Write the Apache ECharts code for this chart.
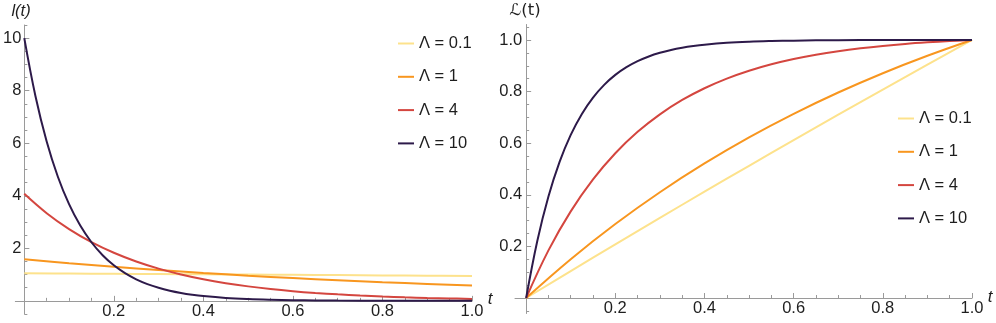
<!DOCTYPE html>
<html><head><meta charset="utf-8">
<script src="https://cdn.jsdelivr.net/npm/echarts@6/dist/echarts.min.js"></script>
<style>html,body{margin:0;padding:0;background:#fff}#c{width:996px;height:323px}</style>
</head><body><div id="c"></div><script>
// ---- data ----
const seriesNames = ['Λ = 0.1', 'Λ = 1', 'Λ = 4', 'Λ = 10'];
const tCoarse = [0, 0.1, 0.2, 0.3, 0.4, 0.5, 0.6, 0.7, 0.8, 0.9, 1.0];
const tMid = [0, 0.05, 0.1, 0.15, 0.2, 0.25, 0.3, 0.35, 0.4, 0.45, 0.5, 0.55, 0.6, 0.65, 0.7, 0.75, 0.8, 0.85, 0.9, 0.95, 1.0];
const tFine = [0, 0.025, 0.05, 0.075, 0.1, 0.125, 0.15, 0.175, 0.2, 0.225, 0.25, 0.275, 0.3, 0.325, 0.35, 0.375, 0.4, 0.45, 0.5, 0.55, 0.6, 0.65, 0.7, 0.8, 0.9, 1.0];

// left panel: l(t)
const density01 = [1.0508, 1.0404, 1.0300, 1.0198, 1.0096, 0.9996, 0.9896, 0.9798, 0.9700, 0.9604, 0.9508];
const density1 = [1.5820, 1.4314, 1.2952, 1.1719, 1.0604, 0.9595, 0.8682, 0.7856, 0.7108, 0.6432, 0.5820];
const density4 = [4.0746, 3.3360, 2.7313, 2.2362, 1.8308, 1.4990, 1.2273, 1.0048, 0.8227, 0.6735, 0.5514, 0.4515, 0.3696, 0.3026, 0.2478, 0.2029, 0.1661, 0.1360, 0.1113, 0.0912, 0.0746];
const density10 = [10.000, 7.7884, 6.0656, 4.7239, 3.6790, 2.8652, 2.2314, 1.7378, 1.3534, 1.0540, 0.8209, 0.6393, 0.4979, 0.3878, 0.3020, 0.2352, 0.1832, 0.1111, 0.0674, 0.0409, 0.0248, 0.0150, 0.0091, 0.0034, 0.0012, 0.0005];

// right panel: L(t)
const cum01 = [0, 0.1046, 0.2081, 0.3106, 0.4120, 0.5125, 0.6120, 0.7104, 0.8079, 0.9044, 1];
const cum1 = [0, 0.1506, 0.2868, 0.4100, 0.5215, 0.6225, 0.7138, 0.7964, 0.8712, 0.9388, 1];
const cum4 = [0, 0.1847, 0.3358, 0.4596, 0.5609, 0.6439, 0.7118, 0.7675, 0.8130, 0.8503, 0.8808, 0.9058, 0.9262, 0.9430, 0.9567, 0.9679, 0.9771, 0.9847, 0.9908, 0.9959, 1];
const cum10 = [0, 0.2212, 0.3935, 0.5276, 0.6321, 0.7135, 0.7769, 0.8262, 0.8647, 0.8946, 0.9179, 0.9361, 0.9502, 0.9612, 0.9698, 0.9765, 0.9817, 0.9889, 0.9933, 0.9959, 0.9975, 0.9985, 0.9991, 0.9997, 0.9999, 1];

// ticks
const xMajorTicks = [0.2, 0.4, 0.6, 0.8, 1.0];
const xMinorTicks = [0.05, 0.1, 0.15, 0.2, 0.25, 0.3, 0.35, 0.4, 0.45, 0.5, 0.55, 0.6, 0.65, 0.7, 0.75, 0.8, 0.85, 0.9, 0.95, 1.0];
const yLeftMajorTicks = [2, 4, 6, 8, 10];
const yLeftMinorTicks = [-0.5, 0.5, 1, 1.5, 2, 2.5, 3, 3.5, 4, 4.5, 5, 5.5, 6, 6.5, 7, 7.5, 8, 8.5, 9, 9.5, 10, 10.5];
const yRightMajorTicks = [0.2, 0.4, 0.6, 0.8, 1.0];
const yRightMinorTicks = [-0.05, 0.05, 0.1, 0.15, 0.2, 0.25, 0.3, 0.35, 0.4, 0.45, 0.5, 0.55, 0.6, 0.65, 0.7, 0.75, 0.8, 0.85, 0.9, 0.95, 1.0, 1.05];

// ---- styles ----
const colors = ['#FDE28C', '#F8961F', '#D4463F', '#2D1A4A'];
const axisColor = '#9a9a9a';
const labelColor = '#1e1e1e';
const FONT = 'Arial, "Liberation Sans", sans-serif';
const FS = 16.5;

const grids = [
  { left: 12, top: 25, width: 460, height: 289, xMin: -0.02, xMax: 1, yMin: -0.5, yMax: 10.5 },
  { left: 515, top: 24.5, width: 457, height: 289, xMin: -0.025, xMax: 1, yMin: -0.06, yMax: 1.06 }
];

function xAxes(gi, g, fmt) {
  const off = -(g.height * (0 - g.yMin) / (g.yMax - g.yMin));
  const base = { type: 'value', gridIndex: gi, min: g.xMin, max: g.xMax, position: 'bottom', offset: off, splitLine: { show: false } };
  return [
    Object.assign({}, base, {
      axisLine: { show: true, onZero: false, lineStyle: { color: axisColor, width: 1 } },
      axisTick: { show: true, inside: true, length: 5, customValues: xMajorTicks, lineStyle: { color: axisColor } },
      axisLabel: { show: true, customValues: xMajorTicks, formatter: fmt, margin: 2, color: labelColor, fontSize: FS, fontFamily: FONT }
    }),
    Object.assign({}, base, {
      axisLine: { show: false, onZero: false },
      axisTick: { show: true, inside: true, length: 3, customValues: xMinorTicks, lineStyle: { color: axisColor } },
      axisLabel: { show: false }
    })
  ];
}
function yAxes(gi, g, major, minor, fmt, margin) {
  const off = -(g.width * (0 - g.xMin) / (g.xMax - g.xMin));
  const base = { type: 'value', gridIndex: gi, min: g.yMin, max: g.yMax, position: 'left', offset: off, splitLine: { show: false } };
  return [
    Object.assign({}, base, {
      axisLine: { show: true, onZero: false, lineStyle: { color: axisColor, width: 1 } },
      axisTick: { show: true, inside: true, length: 5, customValues: major, lineStyle: { color: axisColor } },
      axisLabel: { show: true, customValues: major, formatter: fmt, margin: margin, color: labelColor, fontSize: FS, fontFamily: FONT }
    }),
    Object.assign({}, base, {
      axisLine: { show: false, onZero: false },
      axisTick: { show: true, inside: true, length: 3, customValues: minor, lineStyle: { color: axisColor } },
      axisLabel: { show: false }
    })
  ];
}

const fmt1 = v => Number(v).toFixed(1);
const fmtInt = v => String(Math.round(v));

function zip(ts, vs) { return ts.map((t, i) => [t, vs[i]]); }
function line(name, idx, axisIdx, data) {
  return {
    name: name, type: 'line', xAxisIndex: axisIdx, yAxisIndex: axisIdx,
    data: data, showSymbol: false, symbol: 'none', smooth: 0.4,
    lineStyle: { width: 2, color: colors[idx] }, itemStyle: { color: colors[idx] },
    animation: false, z: 3
  };
}

const leftData = [zip(tCoarse, density01), zip(tCoarse, density1), zip(tMid, density4), zip(tFine, density10)];
const rightData = [zip(tCoarse, cum01), zip(tCoarse, cum1), zip(tMid, cum4), zip(tFine, cum10)];

const series = [];
seriesNames.forEach((n, i) => series.push(line(n, i, 0, leftData[i])));
seriesNames.forEach((n, i) => series.push(line(n, i, 2, rightData[i])));

const legendBase = {
  orient: 'vertical', itemWidth: 16, itemHeight: 2, icon: 'rect', itemGap: 16.3,
  data: seriesNames, selectedMode: false,
  textStyle: { fontSize: FS, lineHeight: 16, color: labelColor, fontFamily: FONT }
};

const option = {
  backgroundColor: '#ffffff',
  animation: false,
  grid: grids.map(g => ({ left: g.left, top: g.top, width: g.width, height: g.height, containLabel: false })),
  xAxis: [].concat(xAxes(0, grids[0], fmt1), xAxes(1, grids[1], fmt1)),
  yAxis: [].concat(yAxes(0, grids[0], yLeftMajorTicks, yLeftMinorTicks, fmtInt, 3), yAxes(1, grids[1], yRightMajorTicks, yRightMinorTicks, fmt1, 4)),
  legend: [
    Object.assign({}, legendBase, { left: 393, top: 30 }),
    Object.assign({}, legendBase, { left: 893, top: 105 })
  ],
  graphic: [
    { type: 'text', x: 21, y: 11, style: { text: 'l(t)', align: 'center', verticalAlign: 'middle', fontSize: FS, fontStyle: 'italic', fontFamily: FONT, fill: labelColor } },
    { type: 'text', x: 525, y: 11, style: { text: 'ℒ(t)', align: 'center', verticalAlign: 'middle', fontSize: FS, fontFamily: '"DejaVu Sans", "Liberation Sans", sans-serif', fill: labelColor } },
    { type: 'text', x: 490, y: 299, style: { text: 't', align: 'center', verticalAlign: 'middle', fontSize: 17, fontStyle: 'italic', fontFamily: FONT, fill: labelColor } },
    { type: 'text', x: 990, y: 297, style: { text: 't', align: 'center', verticalAlign: 'middle', fontSize: 17, fontStyle: 'italic', fontFamily: FONT, fill: labelColor } }
  ],
  series: series
};

const chart = echarts.init(document.getElementById('c'), null, { renderer: 'canvas' });
chart.setOption(option);
</script></body></html>
